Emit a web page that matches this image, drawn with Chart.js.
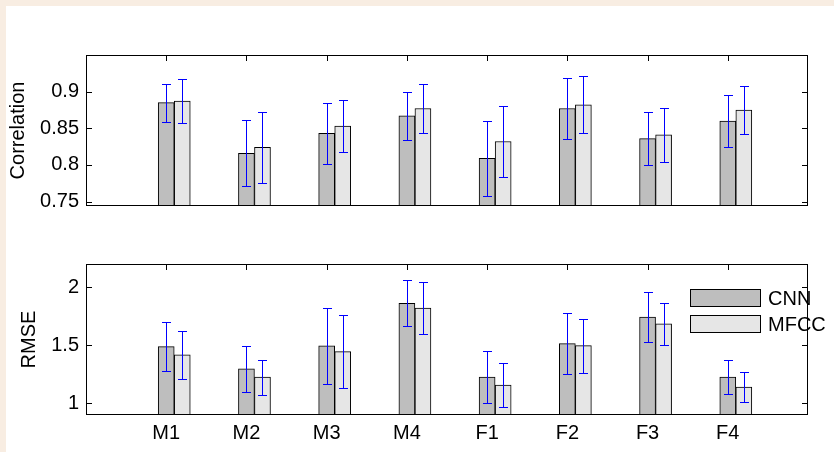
<!DOCTYPE html>
<html>
<head>
<meta charset="utf-8">
<script src="https://cdn.jsdelivr.net/npm/chart.js@4.4.0/dist/chart.umd.min.js"></script>
<style>
  html, body { margin: 0; padding: 0; background: #f8ede2; }
  #folha { position: absolute; left: 6px; top: 6px; width: 828px; height: 446px; background: #fff; }
  .painel { position: absolute; left: 0; width: 834px; }
</style>
</head>
<body>
<div id="folha"></div>
<div class="painel" style="top:0;height:230px"><canvas id="graficoCorr"></canvas></div>
<div class="painel" style="top:230px;height:222px"><canvas id="graficoRmse"></canvas></div>
<script>
// Dados
const categorias = ['M1', 'M2', 'M3', 'M4', 'F1', 'F2', 'F3', 'F4'];

const corrCnn = [0.885, 0.816, 0.843, 0.867, 0.809, 0.877, 0.836, 0.860];
const corrCnnDesvio = [0.026, 0.045, 0.042, 0.033, 0.051, 0.041, 0.036, 0.036];
const corrMfcc = [0.887, 0.824, 0.853, 0.877, 0.832, 0.882, 0.841, 0.875];
const corrMfccDesvio = [0.030, 0.048, 0.036, 0.034, 0.048, 0.039, 0.037, 0.033];

const rmseCnn = [1.489, 1.298, 1.495, 1.861, 1.226, 1.515, 1.744, 1.226];
const rmseCnnDesvio = [0.209, 0.199, 0.325, 0.199, 0.222, 0.259, 0.216, 0.148];
const rmseMfcc = [1.418, 1.226, 1.446, 1.821, 1.158, 1.497, 1.684, 1.141];
const rmseMfccDesvio = [0.209, 0.151, 0.312, 0.225, 0.186, 0.233, 0.179, 0.129];

const ticksCorr = [0.75, 0.8, 0.85, 0.9];
const ticksRmse = [1, 1.5, 2];
const limCorr = [0.744, 0.95];
const limRmse = [0.9, 2.2];

const fonte = { family: '"Liberation Sans", Arial, sans-serif', size: 20 };
const desloc = 0.2; // MFCC fica ao lado da barra CNN

// Moldura, ticks para dentro, barras de erro e legenda
const moldura = {
    id: 'moldura',
    beforeDatasetsDraw(chart) {
        const { ctx, chartArea: a, scales: { x, y } } = chart;
        ctx.save();
        ctx.fillStyle = '#000';
        x.ticks.forEach(t => {
            const px = Math.round(x.getPixelForValue(t.value));
            ctx.fillRect(px, a.top, 1, 6);
            ctx.fillRect(px, a.bottom - 6, 1, 6);
        });
        y.ticks.forEach(t => {
            const py = Math.round(y.getPixelForValue(t.value));
            ctx.fillRect(a.left, py, 6, 1);
            ctx.fillRect(a.right - 6, py, 6, 1);
        });
        ctx.restore();
    },
    afterDatasetsDraw(chart, args, opts) {
        const { ctx, chartArea: a, scales: { x, y } } = chart;
        ctx.save();
        // barras de erro
        ctx.fillStyle = '#0000ff';
        chart.data.datasets.forEach(ds => {
            ds.data.forEach((p, j) => {
                const px = Math.round(x.getPixelForValue(p.x));
                const alto = Math.round(y.getPixelForValue(p.y + ds.desvio[j]));
                const baixo = Math.round(y.getPixelForValue(p.y - ds.desvio[j]));
                ctx.fillRect(px, alto, 1, baixo - alto + 1);
                ctx.fillRect(px - 4, alto, 9, 1);
                ctx.fillRect(px - 4, baixo, 9, 1);
            });
        });
        // caixa do eixo
        ctx.strokeStyle = '#000';
        ctx.lineWidth = 1;
        ctx.strokeRect(Math.round(a.left) + 0.5, Math.round(a.top) + 0.5,
            Math.round(a.width) - 1, Math.round(a.height) - 1);
        // legenda
        if (opts.legenda) {
            ctx.font = fonte.size + 'px ' + fonte.family;
            ctx.textBaseline = 'middle';
            ctx.textAlign = 'left';
            chart.data.datasets.forEach((ds, i) => {
                const lx = Math.round(a.right) - 118, ly = Math.round(a.top) + 25 + i * 26;
                ctx.fillStyle = ds.backgroundColor;
                ctx.fillRect(lx, ly, 71, 18);
                ctx.strokeStyle = '#000';
                ctx.strokeRect(lx + 0.5, ly + 0.5, 70, 17);
                ctx.fillStyle = '#000';
                ctx.fillText(ds.label, lx + 78, ly + 10);
            });
        }
        ctx.restore();
    }
};

function criarGrafico(id, titulo, cnn, cnnDesv, mfcc, mfccDesv, yTicks, lim, opc) {
    const ctx = document.getElementById(id).getContext('2d');
    return new Chart(ctx, {
        type: 'bar',
        data: {
            datasets: [
                {
                    label: 'CNN',
                    data: cnn.map((v, i) => ({ x: i + 1, y: v })),
                    desvio: cnnDesv,
                    backgroundColor: '#bebebe',
                    borderColor: '#000',
                    borderWidth: 1
                },
                {
                    label: 'MFCC',
                    data: mfcc.map((v, i) => ({ x: i + 1 + desloc, y: v })),
                    desvio: mfccDesv,
                    backgroundColor: '#e6e6e6',
                    borderColor: '#000',
                    borderWidth: 1
                }
            ]
        },
        options: {
            responsive: true,
            maintainAspectRatio: false,
            animation: false,
            grouped: false,
            barThickness: 16,
            layout: { padding: opc.padding },
            scales: {
                x: {
                    type: 'linear',
                    min: 0,
                    max: categorias.length + 1,
                    offset: false,
                    grid: { display: false, drawTicks: false },
                    border: { display: false },
                    afterBuildTicks: s => { s.ticks = categorias.map((c, i) => ({ value: i + 1 })); },
                    afterFit: s => { s.height = opc.alturaX; },
                    ticks: {
                        display: opc.rotulosX,
                        padding: 6,
                        color: '#000',
                        font: fonte,
                        maxRotation: 0,
                        autoSkip: false,
                        callback: v => categorias[v - 1] || ''
                    }
                },
                y: {
                    min: lim[0],
                    max: lim[1],
                    grid: { display: false, drawTicks: false },
                    border: { display: false },
                    afterBuildTicks: s => { s.ticks = yTicks.map(v => ({ value: v })); },
                    afterFit: s => { s.width = 86; },
                    ticks: {
                        padding: 7,
                        color: '#000',
                        font: fonte,
                        callback: v => String(v)
                    },
                    title: {
                        display: true,
                        text: titulo,
                        color: '#000',
                        font: fonte,
                        padding: { top: opc.padTitulo, bottom: 0 }
                    }
                }
            },
            plugins: {
                legend: { display: false },
                tooltip: { enabled: false },
                moldura: { legenda: opc.legenda }
            }
        },
        plugins: [moldura]
    });
}

criarGrafico('graficoCorr', 'Correlation', corrCnn, corrCnnDesvio, corrMfcc, corrMfccDesvio,
    ticksCorr, limCorr,
    { padding: { top: 55, right: 26, bottom: 24, left: 0 }, alturaX: 0, rotulosX: false, legenda: false, padTitulo: 6 });

criarGrafico('graficoRmse', 'RMSE', rmseCnn, rmseCnnDesvio, rmseMfcc, rmseMfccDesvio,
    ticksRmse, limRmse,
    { padding: { top: 34, right: 26, bottom: 0, left: 0 }, alturaX: 37, rotulosX: true, legenda: true, padTitulo: 17 });
</script>
</body>
</html>
